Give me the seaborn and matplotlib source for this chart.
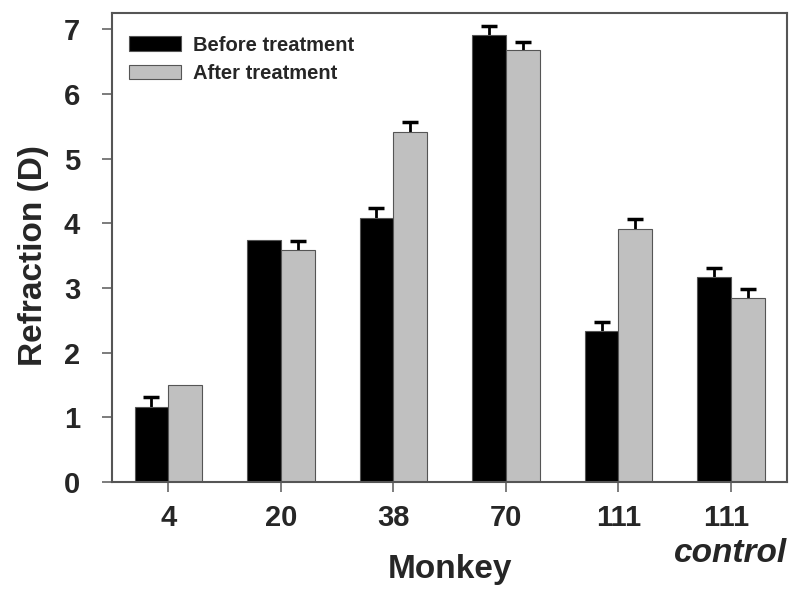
import numpy as np
import pandas as pd
import seaborn as sns
import matplotlib.pyplot as plt

sns.set_style("white")
plt.rcParams['font.family'] = ['Liberation Sans', 'DejaVu Sans']
plt.rcParams['font.weight'] = 'bold'

# values
monkeys = ["4", "20", "38", "70", "111", "111 "]
before = [1.16, 3.75, 4.08, 6.92, 2.33, 3.17]
after = [1.50, 3.59, 5.42, 6.68, 3.91, 2.84]
before_err = [0.15, np.nan, 0.15, 0.14, 0.14, 0.14]
after_err = [np.nan, 0.14, 0.14, 0.13, 0.15, 0.14]
groups = ["Before treatment", "After treatment"]

df = pd.DataFrame({
    "Monkey": monkeys * 2,
    "Refraction": before + after,
    "group": [groups[0]] * 6 + [groups[1]] * 6,
})

fig = plt.figure(figsize=(8, 6.01), dpi=100)
ax = fig.add_axes([0.14, 0.198, 0.844, 0.78])

sns.barplot(data=df, x="Monkey", y="Refraction", hue="group", hue_order=groups,
            palette=["black", "#c0c0c0"], width=0.6, errorbar=None,
            edgecolor="#555555", linewidth=0.8, ax=ax, zorder=2)

# error bars drawn behind the bars, so only the upper half shows
for cont, errs in zip(ax.containers, [before_err, after_err]):
    for patch, e in zip(cont.patches, errs):
        if np.isnan(e):
            continue
        xc = patch.get_x() + patch.get_width() / 2
        h = patch.get_height()
        ax.errorbar(xc, h, yerr=e, color="black", lw=2,
                    capsize=5.5, capthick=2.5, zorder=1)

ax.set_xlim(-0.5, 5.5)
ax.set_ylim(0, 7.25)
ax.set_yticks(range(8))
ax.tick_params(axis="both", direction="out", length=7, width=1.2,
               color="#666666", labelsize=21, bottom=True, left=True)
ax.tick_params(axis="x", pad=9)
ax.tick_params(axis="y", pad=16)
for lab in ax.get_xticklabels() + ax.get_yticklabels():
    lab.set_fontweight("bold")
for sp in ax.spines.values():
    sp.set_color("#555555")
    sp.set_linewidth(1.5)

ax.set_xlabel("Monkey", fontsize=24, fontweight="bold", labelpad=16)
ax.set_ylabel("Refraction (D)", fontsize=24, fontweight="bold", labelpad=11)
ax.yaxis.label.set_y(0.482)
ax.annotate("control", xy=(5, 0), xycoords=("data", "axes fraction"),
            xytext=(0, -71), textcoords="offset pixels",
            ha="center", va="center", fontsize=24,
            fontweight="bold", fontstyle="italic", annotation_clip=False)

ax.legend(loc="upper left", bbox_to_anchor=(-0.001, 0.991), frameon=False,
          handlelength=2.55, handleheight=0.7, labelspacing=0.48,
          handletextpad=0.6, prop={"weight": "bold", "size": 14.5})

fig.savefig("out.png", dpi=100)
